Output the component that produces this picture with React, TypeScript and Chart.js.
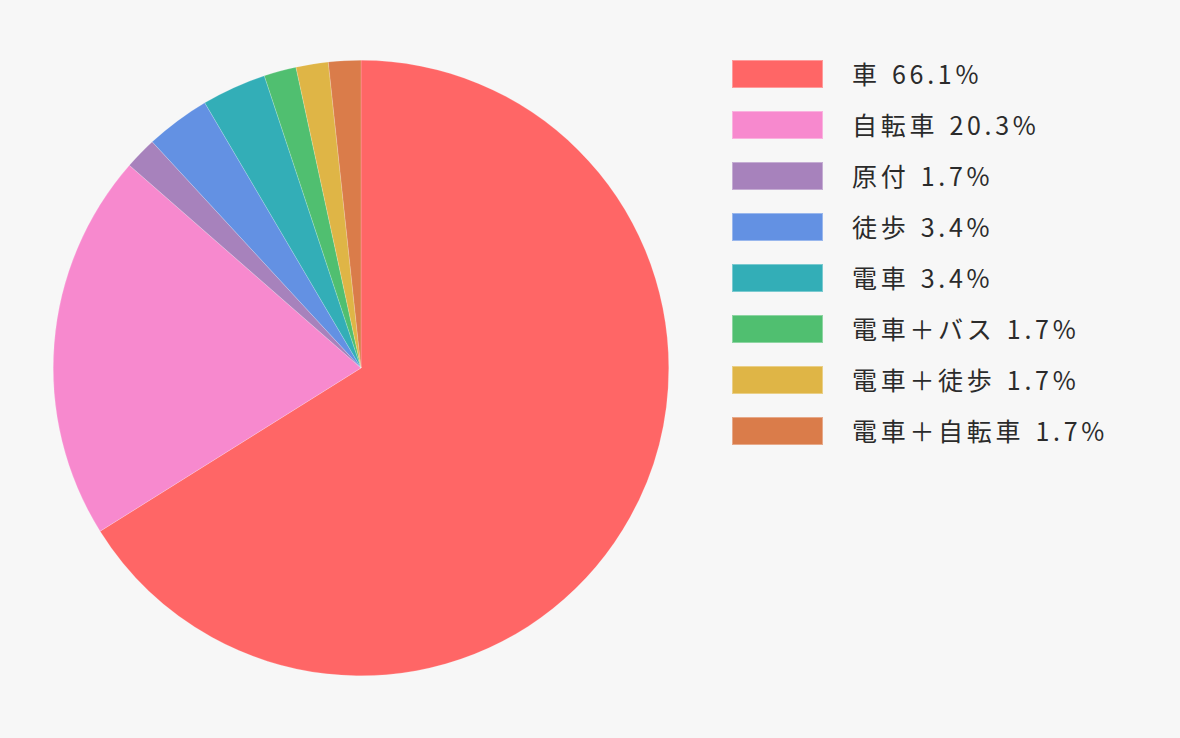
import { useEffect, useRef } from 'react';
import { Chart, registerables } from 'chart.js';

Chart.register(...registerables);

// 通勤手段 (人数)
const labels = ['車', '自転車', '原付', '徒歩', '電車', '電車＋バス', '電車＋徒歩', '電車＋自転車'];
const counts = [39, 12, 1, 2, 2, 1, 1, 1];
const colors = [
  'rgb(255, 102, 102)',
  'rgb(247, 137, 206)',
  'rgb(167, 130, 188)',
  'rgb(99, 145, 227)',
  'rgb(51, 174, 183)',
  'rgb(80, 191, 112)',
  'rgb(223, 181, 70)',
  'rgb(218, 124, 74)',
];

const FONT = '"Noto Sans CJK JP", "Noto Sans", sans-serif';

const total = counts.reduce((s, v) => s + v, 0);
const percent = (v: number) => ((v / total) * 100).toFixed(1) + '%';

const App = () => {
  const canvasRef = useRef<HTMLCanvasElement>(null);
  const chartRef = useRef<Chart | null>(null);

  useEffect(() => {
    document.body.style.margin = '0';
    const ctx = canvasRef.current?.getContext('2d');
    if (!ctx) return;

    if (chartRef.current) {
      chartRef.current.destroy();
    }

    chartRef.current = new Chart(ctx, {
      type: 'pie',
      data: {
        labels,
        datasets: [{
          data: counts,
          backgroundColor: colors,
          borderColor: 'rgba(255, 255, 255, 0.35)',
          borderWidth: 0.5,
        }]
      },
      options: {
        animation: false,
        responsive: true,
        maintainAspectRatio: false,
        layout: { padding: 53 },
        plugins: {
          legend: { display: false },
          tooltip: { enabled: false },
        },
      }
    });

    return () => {
      if (chartRef.current) {
        chartRef.current.destroy();
        chartRef.current = null;
      }
    };
  }, []);

  return (
    <div style={{ position: 'relative', width: 1180, height: 738, background: '#f7f7f7', overflow: 'hidden' }}>
      <div style={{ position: 'absolute', left: 0, top: 0, width: 722, height: 736 }}>
        <canvas ref={canvasRef}></canvas>
      </div>
      <div style={{ position: 'absolute', left: 732, top: 60 }}>
        {labels.map((label, i) => (
          <div key={label} style={{ display: 'flex', alignItems: 'center', height: 28, marginBottom: 23 }}>
            <div style={{
              width: 91,
              height: 28,
              boxSizing: 'border-box',
              background: colors[i],
              border: '1px solid rgba(255, 255, 255, 0.35)',
            }} />
            <span style={{
              marginLeft: 29,
              marginTop: -2,
              fontFamily: FONT,
              fontSize: 25,
              fontWeight: 400,
              letterSpacing: 3.7,
              wordSpacing: 2,
              color: '#2b2b2b',
              whiteSpace: 'nowrap',
              lineHeight: '28px',
            }}>
              {label} {percent(counts[i])}
            </span>
          </div>
        ))}
      </div>
    </div>
  );
};

export default App;
